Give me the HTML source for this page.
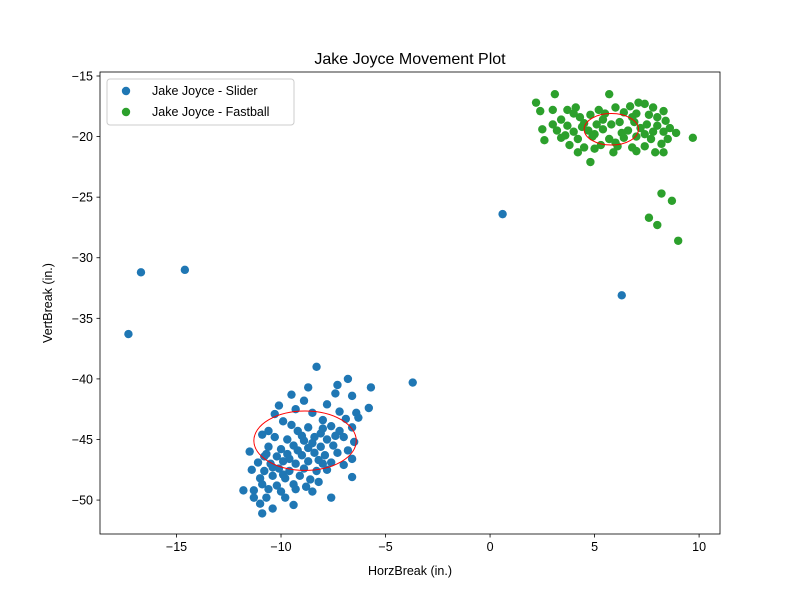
<!DOCTYPE html>
<html><head><meta charset="utf-8"><style>
body{margin:0;background:#fff;}
svg{display:block;font-family:"Liberation Sans","DejaVu Sans",sans-serif;}
</style></head><body>
<svg id="chart" width="800" height="600" viewBox="0 0 800 600"></svg>
<script>
const sliderX=[-8.3,-6.8,-7.3,-5.7,-8.7,-9.5,-7.4,-8.9,-10.1,-6.6,-5.8,-7.8,-9.3,-10.3,-8.5,-6.4,-7.2,-9.9,-8.0,-6.9,-6.3,-9.5,-10.6,-10.9,-8.7,-7.6,-6.6,-9.2,-8.1,-7.2,-10.3,-9.7,-8.9,-8.4,-7.8,-7.0,-6.5,-11.5,-10.6,-10.0,-9.4,-8.7,-8.1,-7.5,-6.8,-10.8,-10.2,-9.7,-9.0,-8.4,-7.9,-7.3,-6.6,-11.1,-10.5,-9.9,-9.3,-8.7,-8.0,-7.6,-7.0,-11.4,-10.8,-10.1,-9.6,-8.9,-8.3,-7.8,-11.0,-10.4,-9.8,-9.1,-8.6,-6.6,-10.9,-10.2,-9.4,-8.8,-8.2,-11.3,-10.6,-10.0,-9.3,-8.5,-11.8,-11.3,-10.7,-9.8,-7.6,-11.0,-10.4,-9.4,-10.9,-9.0,-8.5,-9.6,-8.2,-10.4,-9.2,-8.0,-7.4,-9.9,-10.7,-17.3,-16.7,-14.6,0.6,6.3,-3.7];
const sliderY=[-39.0,-40.0,-40.5,-40.7,-40.7,-41.3,-41.2,-41.8,-42.2,-41.4,-42.4,-42.1,-42.5,-42.9,-42.8,-42.8,-42.7,-43.5,-43.4,-43.3,-43.2,-43.8,-44.3,-44.6,-44.0,-43.9,-44.0,-44.3,-44.5,-44.3,-44.8,-45.0,-45.1,-44.8,-45.0,-44.8,-45.2,-46.0,-45.6,-45.8,-45.5,-45.7,-45.6,-45.5,-45.9,-46.4,-46.4,-46.2,-46.3,-46.1,-46.3,-46.1,-46.6,-46.9,-47.0,-46.8,-47.0,-46.8,-47.0,-46.9,-47.1,-47.5,-47.6,-47.4,-47.6,-47.4,-47.6,-47.5,-48.2,-48.0,-48.2,-48.0,-48.3,-48.1,-48.7,-48.8,-48.7,-48.9,-48.5,-49.2,-49.1,-49.3,-49.1,-49.3,-49.2,-49.8,-49.8,-49.8,-49.8,-50.3,-50.7,-50.4,-51.1,-44.7,-45.3,-46.6,-46.7,-47.3,-45.9,-44.1,-44.7,-47.9,-46.2,-36.3,-31.2,-31.0,-26.4,-33.1,-40.3];
const fastX=[3.1,5.7,2.2,7.1,7.4,3.0,2.4,3.7,4.1,5.2,6.0,6.7,7.8,8.3,3.4,4.3,4.8,5.5,6.4,7.0,7.6,8.0,8.4,3.0,3.7,4.5,5.1,6.2,6.9,7.5,8.0,8.6,2.5,3.2,4.0,4.7,5.4,6.6,7.2,7.8,8.3,8.9,9.7,2.6,3.4,4.2,4.9,5.7,6.4,7.0,7.7,8.5,3.8,4.5,5.3,6.1,6.8,7.4,8.2,4.2,5.0,5.9,7.0,7.9,8.3,4.8,5.8,6.3,5.0,4.4,7.4,6.0,3.6,5.4,6.8,4.0,8.2,8.7,7.6,8.0,9.0];
const fastY=[-16.5,-16.5,-17.2,-17.2,-17.3,-17.8,-17.9,-17.8,-17.6,-17.8,-17.6,-17.5,-17.6,-17.9,-18.6,-18.4,-18.2,-18.1,-18.0,-18.1,-18.2,-18.4,-18.7,-19.0,-19.1,-18.9,-19.0,-18.8,-18.8,-19.0,-19.1,-19.3,-19.4,-19.5,-19.6,-19.5,-19.4,-19.5,-19.3,-19.6,-19.6,-19.7,-20.1,-20.3,-20.1,-20.2,-20.0,-20.2,-20.1,-20.0,-20.2,-20.2,-20.7,-20.9,-20.7,-20.8,-20.9,-20.8,-20.6,-21.3,-21.0,-21.3,-21.2,-21.3,-21.3,-22.1,-19.0,-19.7,-19.8,-19.2,-19.8,-20.5,-19.9,-18.6,-18.4,-18.1,-24.7,-25.3,-26.7,-27.3,-28.6];
const ellipseCX=[-8.85,5.8];
const ellipseCY=[-45.1,-19.4];
const ellipseW=[4.9,2.6];
const ellipseH=[4.9,2.6];
const xTicks=[-15,-10,-5,0,5,10];
const yTicks=[-15,-20,-25,-30,-35,-40,-45,-50];

const L=100,R=720,T=72,B=534;
const xMin=-18.66,xMax=11.0,yMin=-52.8,yMax=-14.67;
const xs=v=>L+(v-xMin)/(xMax-xMin)*(R-L);
const ys=v=>B-(v-yMin)/(yMax-yMin)*(B-T);
const NS="http://www.w3.org/2000/svg";
const svg=document.getElementById('chart');
function mk(tag,attrs,parent){const e=document.createElementNS(NS,tag);for(const k in attrs)e.setAttribute(k,attrs[k]);(parent||svg).appendChild(e);return e;}

const title=mk('text',{x:410,y:64,'text-anchor':'middle','font-size':16,fill:'#000'});
title.textContent='Jake Joyce Movement Plot';



const gS=mk('g',{});


sliderX.forEach((x,i)=>{const c=mk('circle',{cx:xs(x),cy:ys(sliderY[i]),r:4.2,fill:'#1f77b4'},gS);

});
const gF=mk('g',{});


fastX.forEach((x,i)=>{const c=mk('circle',{cx:xs(x),cy:ys(fastY[i]),r:4.2,fill:'#2ca02c'},gF);

});
ellipseCX.forEach((cx,i)=>{const e=mk('ellipse',{cx:xs(cx),cy:ys(ellipseCY[i]),rx:ellipseW[i]/2*(R-L)/(xMax-xMin),ry:ellipseH[i]/2*(B-T)/(yMax-yMin),fill:'none',stroke:'red','stroke-width':1});

});

const frame=mk('rect',{x:L,y:T,width:R-L,height:B-T,fill:'none',stroke:'#000','stroke-width':0.8});



xTicks.forEach(t=>{const x=xs(t);mk('line',{x1:x,x2:x,y1:B,y2:B+3.5,stroke:'#000','stroke-width':0.8});
const tx=mk('text',{x:x,y:B+17,'text-anchor':'middle','font-size':12.5,fill:'#000'});tx.textContent=(t<0?'\u2212'+(-t):t);

});
yTicks.forEach(t=>{const y=ys(t);mk('line',{x1:L-3.5,x2:L,y1:y,y2:y,stroke:'#000','stroke-width':0.8});
const tx=mk('text',{x:L-7,y:y+4.5,'text-anchor':'end','font-size':12.5,fill:'#000'});tx.textContent='\u2212'+(-t);

});

const xl=mk('text',{x:410,y:575,'text-anchor':'middle','font-size':12.5,fill:'#000'});xl.textContent='HorzBreak (in.)';


const yl=mk('text',{x:52,y:303,'text-anchor':'middle','font-size':12.5,fill:'#000',transform:'rotate(-90 52 303)'});yl.textContent='VertBreak (in.)';



const lg=mk('g',{});


mk('rect',{x:107,y:79,width:187,height:46,rx:3,fill:'#fff','fill-opacity':0.8,stroke:'#ccc'},lg);
[['Jake Joyce - Slider','#1f77b4',95],['Jake Joyce - Fastball','#2ca02c',116]].forEach(([lab,col,y])=>{
mk('circle',{cx:126,cy:y-4,r:4.2,fill:col},lg);
const t=mk('text',{x:152,y:y,'font-size':12.5,fill:'#000'},lg);t.textContent=lab;

});
</script>
</body></html>
